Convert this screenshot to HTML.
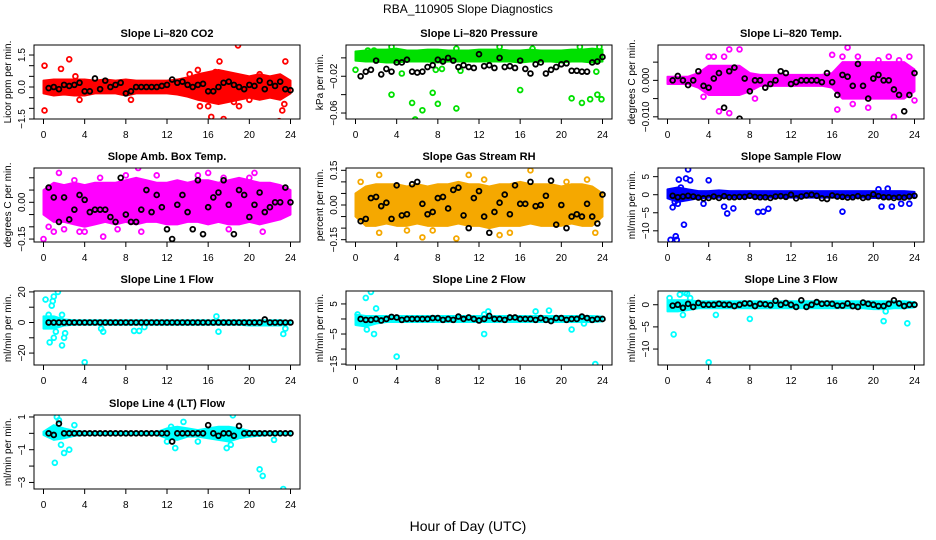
<!DOCTYPE html>
<html><head><meta charset="utf-8"><style>
body{margin:0;background:#fff}
svg{display:block;font-family:"Liberation Sans",Arial,sans-serif}
</style></head><body>
<svg id="chart" width="936" height="540" viewBox="0 0 936 540">
<rect width="936" height="540" fill="#fff"/>
<text x="468" y="13" text-anchor="middle" font-size="12">RBA_110905  Slope Diagnostics</text>
<text x="468" y="531" text-anchor="middle" font-size="14">Hour of Day (UTC)</text>
</svg>
<script>
const xTicks=[0,4,8,12,16,20,24];
const hours25=[0,1,2,3,4,5,6,7,8,9,10,11,12,13,14,15,16,17,18,19,20,21,22,23,24];

const co2Hi=[0.3,0.35,0.35,0.35,0.35,0.3,0.35,0.3,0.35,0.3,0.3,0.3,0.3,0.35,0.45,0.6,0.7,0.8,0.7,0.6,0.5,0.6,0.5,0.6,0.3];
const co2Lo=[-0.3,-0.4,-0.35,-0.4,-0.4,-0.3,-0.3,-0.3,-0.4,-0.3,-0.3,-0.3,-0.3,-0.35,-0.45,-0.6,-0.7,-0.8,-0.7,-0.6,-0.5,-0.6,-0.5,-0.6,-0.3];
const co2Out=[[0.1,1.0],[0.1,-1.1],[2.5,1.3],[1.7,0.85],[3.1,0.5],[3.5,-0.6],[15,0.8],[16,-0.9],[16.3,-1.4],[17.1,1.2],[18.9,1.95],[19,-0.9],[17.5,-1.5],[21,0.6],[22.9,-1.6],[23.2,-1.1],[23.5,1.2],[23.4,-0.8],[14.2,0.6],[15.2,-0.9],[20,-0.6],[18.5,-0.7],[8.5,-0.6],[16.7,0.7]];
const co2Black=[-0.05,0,-0.1,0.1,0.05,0.1,0.2,-0.2,-0.2,0.4,-0.1,0.3,0,0.1,0.2,-0.3,-0.2,0,0,0,0,0,0.05,0.1,0.35,0.2,0.25,0.1,0,0.1,0.15,-0.2,-0.2,0,0.2,0.25,0.1,0,-0.1,0.1,0.05,0.3,-0.1,0.2,0.05,0.25,-0.1,-0.15];

const presHi=[0.007,0.008,0.009,0.009,0.01,0.008,0.008,0.009,0.009,0.008,0.008,0.008,0.009,0.009,0.009,0.008,0.008,0.009,0.008,0.008,0.008,0.009,0.009,0.01,0.009];
const presLo=[-0.003,-0.004,-0.004,-0.005,-0.005,-0.004,-0.004,-0.004,-0.005,-0.004,-0.004,-0.004,-0.004,-0.004,-0.004,-0.004,-0.005,-0.004,-0.004,-0.004,-0.005,-0.004,-0.004,-0.005,-0.004];
const presOut=[[0,-0.013],[3.5,-0.04],[4.5,-0.017],[5.5,-0.049],[5.8,-0.067],[6.5,-0.057],[7.5,-0.038],[8,-0.05],[8.8,-0.075],[9.3,-0.078],[9.8,-0.055],[10.2,-0.014],[16,-0.035],[17.1,-0.077],[21,-0.044],[22,-0.049],[22.8,-0.045],[23.5,-0.04],[23.9,-0.045],[23.4,-0.015],[1.2,0.008],[1.8,0.008],[14,0.012],[17.2,0.01],[21.8,0.012],[23.7,0.012],[3.5,0.012],[9.8,0.01],[7.8,-0.013],[8.4,-0.012]];
const presBlack=[-0.02,-0.015,-0.013,-0.003,-0.018,-0.012,-0.015,-0.005,-0.005,-0.002,-0.015,-0.016,-0.015,-0.01,-0.008,-0.002,-0.004,0,-0.003,-0.01,-0.008,-0.01,-0.011,0.004,-0.009,-0.008,-0.011,0,-0.01,-0.009,-0.011,-0.003,-0.012,-0.017,-0.007,-0.005,-0.017,-0.013,-0.01,-0.007,-0.006,-0.014,-0.014,-0.015,-0.015,-0.005,-0.004,0.001];

const tempHi=[0.001,0.001,0.001,0.002,0.004,0.004,0.004,0.004,0.002,0.0015,0.0015,0.0015,0.0015,0.0015,0.0015,0.0015,0.002,0.005,0.005,0.005,0.005,0.005,0.005,0.005,0.003];
const tempLo=[-0.001,-0.001,-0.001,-0.002,-0.004,-0.004,-0.004,-0.004,-0.003,-0.0015,-0.0015,-0.0015,-0.0015,-0.0015,-0.0015,-0.0015,-0.002,-0.005,-0.005,-0.005,-0.005,-0.005,-0.005,-0.005,-0.003];
const tempOut=[[4,0.0065],[4.5,0.0065],[5.5,0.0065],[6,0.0085],[7,0.0085],[5,-0.0085],[6,-0.009],[3.5,-0.0045],[16.5,-0.008],[17,0.0065],[17.5,0.009],[18.5,0.0065],[19.5,-0.0075],[20.5,0.0055],[21.5,0.0065],[22,-0.01],[22.5,0.0055],[23.5,0.0065],[24,-0.0055],[8.5,-0.005],[16,0.007],[18,-0.0065]];
const tempBlack=[0,0.0012,0,-0.0013,0,0.0025,-0.0015,-0.002,0.0005,0.002,-0.0075,0.0025,0.0035,-0.0105,0.0005,-0.003,0,0,-0.002,-0.001,0,0.0025,0.002,-0.001,-0.0005,0,0,0,0,-0.0005,0.002,-0.0005,-0.004,0.0015,0.001,-0.0015,0.0045,-0.0015,-0.005,0.0005,0.0015,0,0,-0.0025,-0.004,-0.0085,-0.004,0.002];

const ambHi=[0.05,0.08,0.07,0.08,0.07,0.08,0.08,0.08,0.09,0.1,0.09,0.08,0.08,0.09,0.08,0.09,0.09,0.08,0.09,0.1,0.09,0.08,0.08,0.07,0.05];
const ambLo=[-0.05,-0.08,-0.08,-0.09,-0.1,-0.09,-0.08,-0.09,-0.08,-0.09,-0.08,-0.08,-0.09,-0.09,-0.08,-0.08,-0.09,-0.08,-0.09,-0.09,-0.08,-0.09,-0.08,-0.07,-0.05];
const ambOut=[[0,-0.15],[1.5,0.12],[2,-0.11],[3,0.09],[4,-0.12],[5.5,0.1],[5.8,-0.14],[8,0.11],[9.2,0.14],[11,0.11],[9.5,-0.12],[15,0.11],[16,0.12],[17.5,0.1],[20.5,0.12],[20,0.1],[18,-0.11],[21.3,-0.12],[1,-0.12],[7.2,-0.11],[3.5,-0.12],[0.5,-0.1]];
const ambBlack=[0.06,0.02,-0.08,0.02,-0.07,-0.03,0.03,0.01,-0.04,-0.03,-0.03,-0.03,-0.06,-0.08,0.1,-0.05,-0.08,-0.08,-0.03,0.05,-0.04,0.03,-0.02,-0.11,-0.15,-0.01,0.03,-0.04,-0.11,0.09,-0.13,-0.02,0.02,0.04,0.09,-0.01,-0.13,0.05,0.03,-0.06,-0.01,0.04,-0.04,-0.02,0,0,0.06,0];

const rhHi=[0.05,0.08,0.09,0.09,0.09,0.08,0.09,0.08,0.09,0.09,0.1,0.09,0.09,0.08,0.09,0.09,0.1,0.09,0.09,0.09,0.08,0.09,0.09,0.08,0.05];
const rhLo=[-0.05,-0.09,-0.09,-0.08,-0.09,-0.09,-0.08,-0.09,-0.09,-0.09,-0.08,-0.09,-0.09,-0.1,-0.09,-0.09,-0.09,-0.08,-0.09,-0.09,-0.09,-0.08,-0.09,-0.09,-0.05];
const rhOut=[[2.3,-0.12],[2.3,0.13],[6.5,-0.14],[9.8,-0.145],[11,0.13],[14,-0.13],[15,-0.12],[17,0.15],[20.5,0.1],[22.5,0.11],[23.3,-0.12],[0.5,0.1],[5,-0.11],[7.5,-0.11],[12.5,0.11]];
const rhBlack=[-0.07,-0.06,0.03,0.035,-0.005,0.01,-0.06,0.085,-0.045,-0.04,0.09,0.1,0.005,-0.04,-0.03,0.03,0.035,-0.015,0.065,0.075,-0.045,-0.1,0.03,0.06,-0.05,-0.12,-0.03,0.01,0.045,-0.04,0.085,0.005,0.005,0.1,-0.005,0,0.04,0.105,-0.085,0,-0.1,-0.05,-0.04,-0.05,0.005,-0.05,-0.08,0.045];

const flowHi=[1.5,2,1.5,1,1,1.2,1,1,1,1,1,1,1,1,1,1,1,1,1,1,1,1,1,1,0.8];
const flowLo=[-1,-2,-1.5,-1,-0.8,-0.8,-0.8,-0.8,-0.8,-0.8,-0.8,-0.8,-0.8,-0.8,-0.8,-0.8,-0.8,-0.8,-0.8,-0.8,-0.9,-0.9,-0.9,-0.9,-0.6];
const flowOut=[[0.3,-12.5],[0.5,-3.5],[0.8,-11.5],[0.9,-12.5],[1.1,4.2],[1.3,2],[1.6,-8.3],[1.8,4.5],[2,7],[2.2,4],[4,4],[3.5,-2.5],[5.5,-3.3],[5.8,-5.2],[6.4,-3.8],[8.8,-4.8],[9.3,-4.7],[9.8,-3.9],[17,-4.7],[20.8,-3.3],[21.8,-3.3],[22.7,-2.5],[23.5,-2.5],[20.5,1.5],[21.4,1.7],[0.7,-2],[1,-2.5]];
const flowBlack=[-0.3,-0.7,-0.5,-0.3,-0.5,-0.8,-1,-0.9,-0.5,-0.9,-0.4,-0.7,-0.7,-0.6,-0.6,-0.3,-0.6,-0.7,-0.7,-0.9,-0.5,-0.4,-0.6,0,-1,-0.5,-0.2,0,-0.3,-1,-1.2,-0.2,-0.5,-0.6,-0.8,-0.7,-0.4,-0.9,-0.7,0.1,-0.4,-0.7,-0.7,-0.9,-0.7,-0.8,-0.5,-0.3];

const l1Hi=[4,4,2,1.5,1.5,1.5,1.5,1.5,1.5,1.5,1.5,1.5,1.5,1.5,1.5,1.5,1.5,1.5,1.5,1.5,1.5,1.5,1.5,1.5,1];
const l1Lo=[-4,-4,-2,-1.5,-1.5,-1.5,-1.5,-1.5,-1.5,-1.5,-1.5,-1.5,-1.5,-1.5,-1.5,-1.5,-1.5,-1.5,-1.5,-1.5,-2,-2,-2,-2,-1];
const l1Out=[[0.2,15],[0.8,11],[0.9,14],[1,17],[1.4,20],[0.5,5],[0.6,-13],[1,-10],[1.2,-6],[1.8,-15],[2,-10],[2.1,-7],[4,-26],[5.6,-4],[5.8,-6],[8.8,-5.5],[9.3,-5.5],[9.8,-3],[17,-6],[16.8,4],[23.3,-7.5],[23.5,-4],[1.8,5]];
const l1Black=[0,0,0,0,0,0,0,0,0,0,0,0,0,0,0,0,0,0,0,0,0,0,0,0,0,0,0,0,0,0,0,0,0,0,0,0,0,0,0,0,0,0,2,0,0,0,0,0];

const l2Hi=[1.5,1,1,1,1,1,1,1,1,1,1,1,1,1,1,1,1,1,1,1,1,1,1,1,0.8];
const l2Lo=[-2,-2.5,-1.5,-1,-1,-1,-1,-1,-1,-1,-1,-1,-1,-1,-1,-1,-1,-1,-1,-1,-1,-1,-1,-1,-0.8];
const l2Out=[[1,7],[1.5,9],[1.8,-5],[2,3.5],[4,-12.5],[12.5,-5],[12.9,2.5],[12.5,1.5],[17.5,2.5],[18.8,2.8],[21,-3.5],[22.2,-1.5],[23.3,-15],[1.1,-3.5],[0.2,1.5]];
const l2Black=[0,-0.3,-0.3,0,-0.5,0,0.7,0.5,-0.3,0,0,0,0,0,0.3,0.3,-0.3,0,-0.3,0.8,0,0.5,0,-0.5,0,1,0,0,-0.3,0.5,0.5,0,0,0,-0.3,0.3,-0.3,-0.7,0.3,0.3,-0.3,0,0,0.8,0.3,-0.3,0,0];

const l3Hi=[1,1,1,0.8,0.8,0.8,0.8,0.8,0.8,0.8,0.8,0.8,0.8,0.8,0.8,0.8,0.8,0.8,0.8,0.8,0.8,0.8,0.8,0.8,0.6];
const l3Lo=[-1.5,-1.5,-1.2,-0.8,-0.8,-0.8,-0.8,-0.8,-0.8,-0.8,-0.8,-0.8,-0.8,-0.8,-0.8,-0.8,-0.8,-0.8,-0.8,-0.8,-1,-1,-0.8,-0.8,-0.6];
const l3Out=[[0.2,1.5],[0.6,-6.7],[1.2,2.3],[1.7,2.7],[1.9,2.5],[1.5,-2.3],[2.2,1.5],[4,-13],[4.7,-2.3],[8,-3.2],[21,-3.7],[23.3,-4.2],[21.2,-1.5]];
const l3Black=[-0.2,0,-0.7,0.2,-0.5,0.4,0,0,0,0.2,0,0,-0.3,0,0.3,0.3,-0.3,0.2,0.1,-0.1,0.9,0,0.4,0,-0.5,1,-0.5,0,0.6,0.2,0.3,0.2,-0.2,-0.2,0.3,-0.3,-0.5,0.5,0.2,0,-0.3,-0.3,0.2,1,0.3,-0.3,0,0];

const l4Hi=[0.1,0.5,0.3,0.15,0.1,0.08,0.08,0.08,0.08,0.08,0.08,0.08,0.3,0.4,0.3,0.2,0.3,0.4,0.4,0.3,0.15,0.1,0.1,0.08,0.05];
const l4Lo=[-0.1,-0.4,-0.3,-0.15,-0.1,-0.08,-0.08,-0.08,-0.08,-0.08,-0.08,-0.08,-0.3,-0.4,-0.2,-0.2,-0.3,-0.4,-0.5,-0.3,-0.2,-0.15,-0.1,-0.08,-0.05];
const l4Out=[[1.1,-1.8],[1.3,1],[1.5,0.8],[1.7,-0.7],[2,-1.2],[2.5,-1],[3,0.5],[12,-0.5],[12.8,-0.9],[13.6,0.7],[15,-0.5],[17.8,-0.9],[18.2,-0.7],[18.4,1.1],[21,-2.2],[21.3,-2.6],[23.3,-3.4],[22.4,-0.4],[12.4,0.4]];
const l4Black=[0,-0.1,0.6,0,0,0,0,0,0,0,0,0,0,0,0,0,0,0,0,0,0,0,0,0,-0.5,0,0,0,0,0,0,0.5,0,-0.15,0,0,-0.15,0.45,0,0,0,0,0,0,0,0,0,0];

const panels=[
 {name:"co2",title:"Slope Li-820 CO2",ylab:"Licor ppm per min.",col:0,row:0,ylim:[-1.5,1.97],ticks:[1.5,1,0.5,0,-0.5,-1,-1.5],labels:{"1.5":"1.5","0":"0.0","-1.5":"-1.5"},c:"#ff0000",hi:co2Hi,lo:co2Lo,out:co2Out,blk:co2Black},
 {name:"pressure",title:"Slope Li-820 Pressure",ylab:"kPa per min.",col:1,row:0,ylim:[-0.0665,0.014],ticks:[0,-0.02,-0.04,-0.06],labels:{"-0.02":"-0.02","-0.06":"-0.06"},c:"#00e000",hi:presHi,lo:presLo,out:presOut,blk:presBlack},
 {name:"li-temp",title:"Slope Li-820 Temp.",ylab:"degrees C per min.",col:2,row:0,ylim:[-0.0106,0.0097],ticks:[0.005,0,-0.005,-0.01],labels:{"0":"0.000","-0.01":"-0.010"},c:"#ff00ff",hi:tempHi,lo:tempLo,out:tempOut,blk:tempBlack},
 {name:"amb-box-temp",title:"Slope Amb. Box Temp.",ylab:"degrees C per min.",col:0,row:1,ylim:[-0.162,0.14],ticks:[0.1,0.05,0,-0.05,-0.1,-0.15],labels:{"0":"0.00","-0.15":"-0.15"},c:"#ff00ff",hi:ambHi,lo:ambLo,out:ambOut,blk:ambBlack},
 {name:"gas-stream-rh",title:"Slope Gas Stream RH",ylab:"percent per min.",col:1,row:1,ylim:[-0.16,0.16],ticks:[0.15,0.1,0.05,0,-0.05,-0.1,-0.15],labels:{"0.15":"0.15","0":"0.00","-0.15":"-0.15"},c:"#f5a800",hi:rhHi,lo:rhLo,out:rhOut,blk:rhBlack},
 {name:"sample-flow",title:"Slope Sample Flow",ylab:"ml/min per min.",col:2,row:1,ylim:[-13.1,7.4],ticks:[5,0,-5,-10],labels:{"5":"5","0":"0","-5":"-5","-10":"-10"},c:"#0000ff",hi:flowHi,lo:flowLo,out:flowOut,blk:flowBlack},
 {name:"line1-flow",title:"Slope Line 1 Flow",ylab:"ml/min per min.",col:0,row:2,ylim:[-27.8,20.6],ticks:[20,10,0,-10,-20],labels:{"20":"20","0":"0","-20":"-20"},c:"#00ffff",hi:l1Hi,lo:l1Lo,out:l1Out,blk:l1Black},
 {name:"line2-flow",title:"Slope Line 2 Flow",ylab:"ml/min per min.",col:1,row:2,ylim:[-15.3,9.3],ticks:[5,0,-5,-10,-15],labels:{"5":"5","-5":"-5","-15":"-15"},c:"#00ffff",hi:l2Hi,lo:l2Lo,out:l2Out,blk:l2Black},
 {name:"line3-flow",title:"Slope Line 3 Flow",ylab:"ml/min per min.",col:2,row:2,ylim:[-13.6,3.1],ticks:[0,-5,-10],labels:{"0":"0","-5":"-5","-10":"-10"},c:"#00ffff",hi:l3Hi,lo:l3Lo,out:l3Out,blk:l3Black},
 {name:"line4-flow",title:"Slope Line 4 (LT) Flow",ylab:"ml/min per min.",col:0,row:3,ylim:[-3.4,1.12],ticks:[1,0,-1,-2,-3],labels:{"1":"1","-1":"-1","-3":"-3"},c:"#00ffff",hi:l4Hi,lo:l4Lo,out:l4Out,blk:l4Black}
];

const NS="http://www.w3.org/2000/svg";
const svg=document.getElementById("chart");
const colLeft=[34,346,658], rowTop=[45,168,291,415], W=266, H=74;
function mk(tag,attrs,parent){const e=document.createElementNS(NS,tag);for(const k in attrs)e.setAttribute(k,attrs[k]);parent.appendChild(e);return e;}

panels.forEach(p=>{
  const L=colLeft[p.col], T=rowTop[p.row], R=L+W, B=T+H;
  const g=mk("g",{},svg);
  
  
  const xs=h=>L+9.5+(h/24)*(W-19);
  const ys=v=>B-(v-p.ylim[0])/(p.ylim[1]-p.ylim[0])*H;
  const clip=mk("clipPath",{id:"c-"+p.name},g);
  mk("rect",{x:L,y:T,width:W,height:H},clip);
  const plot=mk("g",{"clip-path":"url(#c-"+p.name+")"},g);
  let pts=hours25.map((h,i)=>xs(h)+","+ys(p.hi[i]));
  pts=pts.concat(hours25.slice().reverse().map((h,j)=>xs(h)+","+ys(p.lo[24-j])));
  const band=mk("polygon",{points:pts.join(" "),fill:p.c,stroke:p.c,"stroke-width":2,"stroke-linejoin":"round"},plot);
  
  
  p.out.forEach(o=>{
    const c=mk("circle",{cx:xs(o[0]),cy:ys(o[1]),r:2.4,fill:"none",stroke:p.c,"stroke-width":1.8},plot);
    
    
  });
  p.blk.forEach((v,i)=>{
    const c=mk("circle",{cx:xs((i+1)*0.5),cy:ys(v),r:2.4,fill:"none",stroke:"#000","stroke-width":1.8},plot);
    
    
  });
  const box=mk("rect",{x:L,y:T,width:W,height:H,fill:"none",stroke:"#000","stroke-width":1},g);
  
  
  mk("line",{x1:xs(0),x2:xs(24),y1:B,y2:B,stroke:"#000"},g);
  xTicks.forEach(t=>{
    mk("line",{x1:xs(t),x2:xs(t),y1:B,y2:B+5,stroke:"#000"},g);
    const tx=mk("text",{x:xs(t),y:B+19,"text-anchor":"middle","font-size":10},g);
    tx.textContent=t;
    
    
  });
  const ymin=Math.min(...p.ticks), ymax=Math.max(...p.ticks);
  mk("line",{x1:L,x2:L,y1:ys(ymin),y2:ys(ymax),stroke:"#000"},g);
  p.ticks.forEach(t=>{
    mk("line",{x1:L-5,x2:L,y1:ys(t),y2:ys(t),stroke:"#000"},g);
    const lab=p.labels[String(t)];
    if(lab){
      const tx=mk("text",{x:L-9,y:ys(t),"text-anchor":"middle","font-size":10,transform:"rotate(-90 "+(L-9)+" "+ys(t)+")"},g);
      tx.textContent=lab.replace("-","\u2212");
      
      
    }
  });
  const yl=mk("text",{x:L-23,y:T+H/2,"text-anchor":"middle","font-size":10,transform:"rotate(-90 "+(L-23)+" "+(T+H/2)+")"},g);
  yl.textContent=p.ylab;
  
  
  const ti=mk("text",{x:L+W/2,y:T-8,"text-anchor":"middle","font-size":11,"font-weight":"bold"},g);
  ti.textContent=p.title.replace("-","\u2013");
  
  
});
</script>
</body></html>
